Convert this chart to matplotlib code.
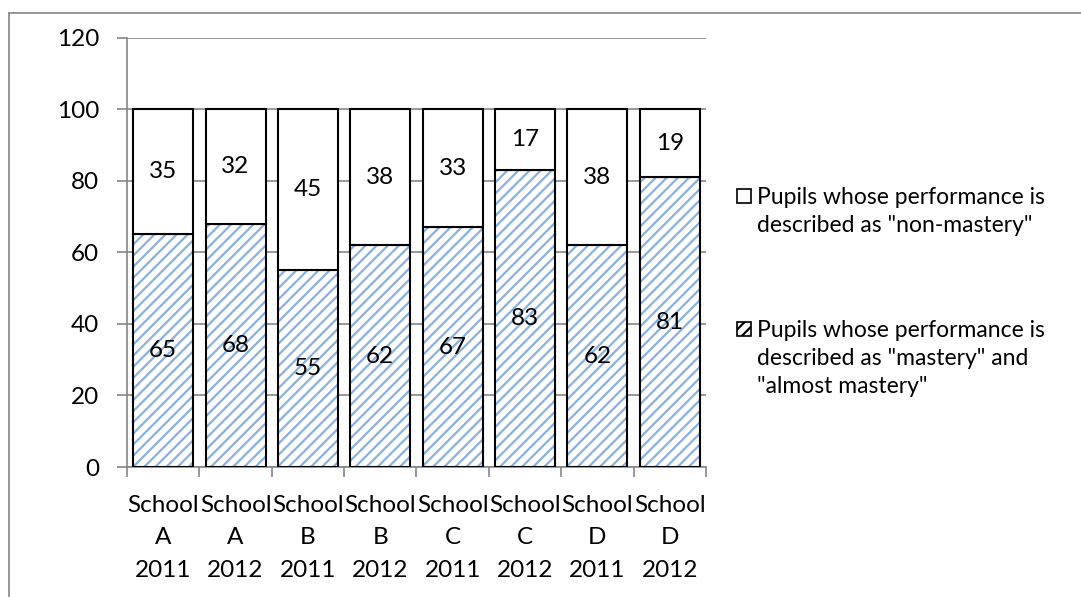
import numpy as np
import matplotlib.pyplot as plt
from matplotlib.patches import Rectangle
from matplotlib.lines import Line2D

categories = ["School\nA\n2011", "School\nA\n2012", "School\nB\n2011", "School\nB\n2012",
              "School\nC\n2011", "School\nC\n2012", "School\nD\n2011", "School\nD\n2012"]
mastery = [65, 68, 55, 62, 67, 83, 62, 81]
non_mastery = [35, 32, 45, 38, 33, 17, 38, 19]
label_mastery = 'Pupils whose performance is\ndescribed as "mastery" and\n"almost mastery"'
label_non = 'Pupils whose performance is\ndescribed as "non-mastery"'
yticks = [0, 20, 40, 60, 80, 100, 120]

plt.rcParams['font.family'] = ['Lato', 'DejaVu Sans']
plt.rcParams['hatch.linewidth'] = 1.6
plt.rcParams['hatch.color'] = '#8AB0DE'

GRAY = '#868686'
HATCH = '#8AB0DE'
FS = 17.5
FS_LEG = 16.5
W, H = 1081, 597

fig = plt.figure(figsize=(W / 100, H / 100), dpi=100)
ax = fig.add_axes([127 / W, 1 - 467 / H, (706 - 127) / W, (467 - 37.5) / H])

x = np.arange(len(categories))
w = 0.83
m = np.array(mastery)
n = np.array(non_mastery)

# hatched fill, then black outlines on top
ax.bar(x, m, w, color='white', edgecolor=HATCH, hatch='///', linewidth=0, zorder=2)
ax.bar(x, m, w, fill=False, edgecolor='black', linewidth=1.5, zorder=3)
ax.bar(x, n, w, bottom=m, color='white', edgecolor='black', linewidth=1.5, zorder=3)

for i in range(len(x)):
    ax.text(x[i], m[i] / 2, str(m[i]), ha='center', va='center', fontsize=FS, zorder=4)
    ax.text(x[i], m[i] + n[i] / 2, str(n[i]), ha='center', va='center', fontsize=FS, zorder=4)

ax.set_xlim(-0.5, len(x) - 0.5)
ax.set_ylim(0, 120)
ax.set_yticks(yticks)
ax.set_yticklabels([str(v) for v in yticks])
ax.yaxis.grid(True, color=GRAY, linewidth=1.2, zorder=0)
ax.set_axisbelow(True)

ax.set_xticks(np.arange(len(x) + 1) - 0.5)
ax.set_xticklabels([])
ax.set_xticks(x, minor=True)
ax.set_xticklabels(categories, minor=True)
ax.tick_params(axis='x', which='major', length=7, width=1.2, color=GRAY)
ax.tick_params(axis='x', which='minor', length=0, pad=20, labelsize=FS)
ax.tick_params(axis='y', length=7, width=1.2, color=GRAY, pad=13, labelsize=FS)
for t in ax.get_xticklabels(minor=True):
    t.set_linespacing(1.68)

for s in ['top', 'right']:
    ax.spines[s].set_visible(False)
for s in ['left', 'bottom']:
    ax.spines[s].set_color(GRAY)
    ax.spines[s].set_linewidth(1.2)

# legend drawn by hand so the box sits beside the first text line
entries = [(label_non, None, 196), (label_mastery, '///', 329)]
for label, hatch, yc in entries:
    fig.add_artist(Rectangle((737 / W, 1 - (yc + 7) / H), 14 / W, 14 / H,
                             transform=fig.transFigure, facecolor='white',
                             edgecolor='black', linewidth=1.2, hatch=hatch))
    fig.text(757 / W, 1 - (yc - 9) / H, label, fontsize=FS_LEG, ha='left', va='top',
             linespacing=1.42)

# outer chart border
fig.add_artist(Line2D([9 / W, 9 / W], [0, 1 - 13 / H], color=GRAY, linewidth=1.2))
fig.add_artist(Line2D([9 / W, 1], [1 - 13 / H, 1 - 13 / H], color=GRAY, linewidth=1.2))

fig.savefig('out.png', dpi=100)
